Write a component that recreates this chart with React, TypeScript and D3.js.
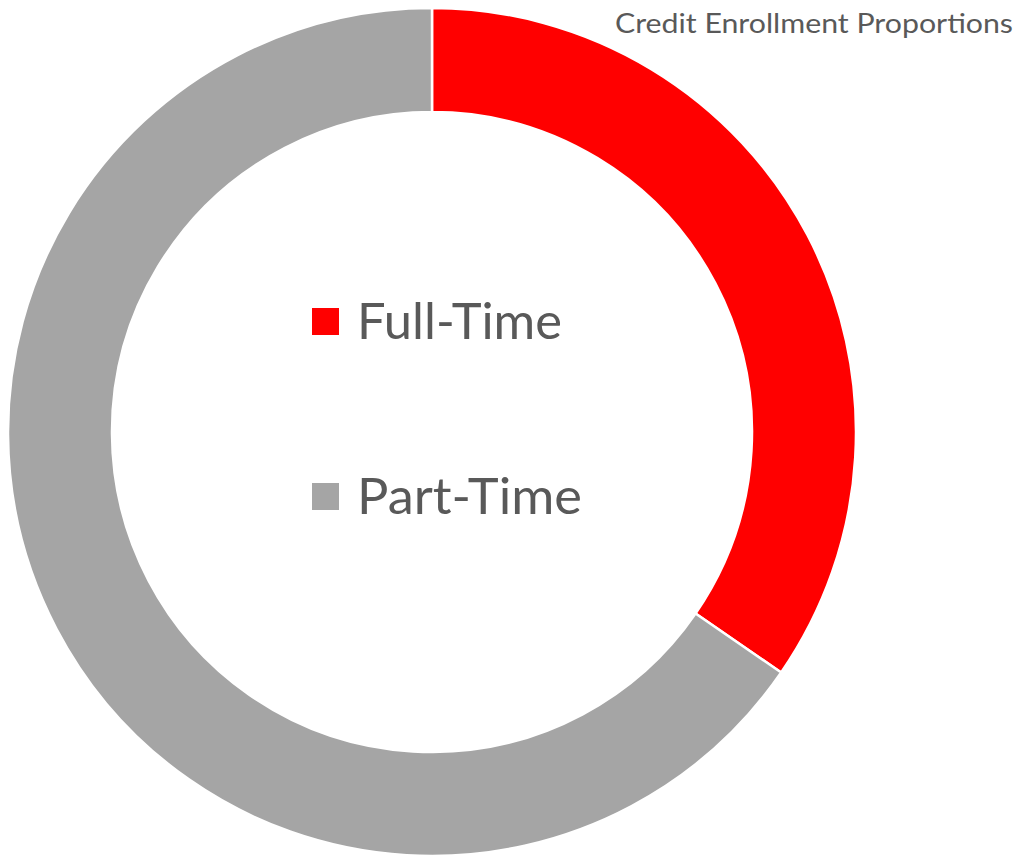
import React from "react";
import * as d3 from "d3";

const categories = ["Full-Time", "Part-Time"];
const values = [34.6, 65.4];
const colors = ["#FF0000", "#A5A5A5"];
const title = "Credit Enrollment Proportions";

export default function App() {
  const width = 1021;
  const height = 855;
  const cx = 432;
  const cy = 432;
  const outerR = 424;
  const innerR = 320;
  const pie = d3.pie<number>().sort(null).value((d) => d)(values);
  const arc = d3.arc<d3.PieArcDatum<number>>().innerRadius(innerR).outerRadius(outerR);
  const legendY = [321, 496];
  const legendLen = [205, 225];
  return (
    <svg width={width} height={height} style={{ position: "absolute", left: 0, top: 0, display: "block" }}>
      <rect width={width} height={height} fill="#fff" />
      <g transform={`translate(${cx},${cy})`}>
        {pie.map((p, i) => (
          <path key={i} d={arc(p) || ""} fill={colors[i]} stroke="#fff" strokeWidth={2.5} />
        ))}
      </g>
      <text x={1013} y={33} textAnchor="end" fontFamily="Lato, 'Open Sans', sans-serif" fontSize={27} fill="#595959" textLength={398} lengthAdjust="spacingAndGlyphs">
        {title}
      </text>
      {categories.map((c, i) => (
        <g key={c}>
          <rect x={312} y={legendY[i] - 13} width={27} height={27} fill={colors[i]} />
          <text x={357} y={legendY[i] + 18} fontFamily="Lato, 'Open Sans', sans-serif" fontSize={51} fill="#595959" textLength={legendLen[i]} lengthAdjust="spacingAndGlyphs">
            {c}
          </text>
        </g>
      ))}
    </svg>
  );
}
